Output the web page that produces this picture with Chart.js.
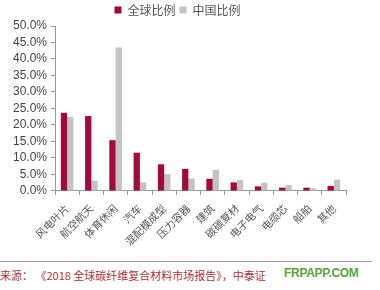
<!DOCTYPE html>
<html>
<head>
<meta charset="utf-8">
<script src="https://cdn.jsdelivr.net/npm/chart.js@4.4.0/dist/chart.umd.min.js"></script>
<style>
  html, body { margin: 0; padding: 0; background: #fff; }
  body { width: 380px; height: 290px; position: relative; overflow: hidden; }
  .chart-wrap { position: absolute; left: 0; top: 0; width: 380px; height: 255px; }
  .footer-line { position: absolute; left: 0; top: 261px; width: 372px; border-top: 1px solid #b59a9a; }
  .source { position: absolute; left: 0; top: 267px; white-space: nowrap; font: 11px "Noto Sans CJK SC", sans-serif; color: #b0343c; }
  .mark { position: absolute; left: 284px; top: 266px; font: bold 12px "Liberation Sans", sans-serif; color: #5aa33c; letter-spacing: -0.3px; }
</style>
</head>
<body>
<div class="chart-wrap"><canvas id="barChart"></canvas></div>
<div class="footer-line"></div>
<div class="source">来源：&nbsp;《2018 全球碳纤维复合材料市场报告》，中泰证</div>
<div class="mark">FRPAPP.COM</div>
<script>
const categories = ['风电叶片', '航空航天', '体育休闲', '汽车', '混配模成型', '压力容器', '建筑', '碳碳复材', '电子电气', '电缆芯', '船舶', '其他'];
const globalShare = [23.7, 22.7, 15.4, 11.6, 8.1, 6.7, 3.7, 2.6, 1.4, 1.0, 1.0, 1.5];
const chinaShare = [22.4, 3.1, 43.5, 2.6, 5.1, 3.8, 6.4, 3.4, 2.5, 1.8, 0.8, 3.4];
const yTicks = [0, 5, 10, 15, 20, 25, 30, 35, 40, 45, 50];

document.addEventListener('DOMContentLoaded', () => {
  const bar = document.getElementById('barChart');
  new Chart(bar, {
    type: 'bar',
    data: {
      labels: categories,
      datasets: [
        {
          label: '全球比例',
          data: globalShare,
          backgroundColor: '#a3093a'
        },
        {
          label: '中国比例',
          data: chinaShare,
          backgroundColor: '#c3c3c3'
        }
      ]
    },
    options: {
      responsive: true,
      maintainAspectRatio: false,
      animation: false,
      datasets: {
        bar: { categoryPercentage: 0.52, barPercentage: 1.0 }
      },
      layout: { padding: { left: 9, right: 34, top: 0, bottom: 0 } },
      plugins: {
        tooltip: { enabled: false },
        legend: {
          position: 'top',
          labels: {
            usePointStyle: true,
            pointStyle: 'rect',
            boxWidth: 7,
            boxHeight: 7,
            padding: 4,
            color: '#555',
            font: { family: '"Noto Sans CJK SC", sans-serif', size: 12 }
          }
        }
      },
      scales: {
        x: {
          grid: { drawOnChartArea: false, drawTicks: true, tickLength: 4, color: '#999' },
          border: { color: '#999' },
          ticks: {
            maxRotation: 45,
            minRotation: 45,
            autoSkip: false,
            color: '#555',
            padding: 7,
            font: { family: '"Noto Sans CJK SC", sans-serif', size: 10.5 }
          }
        },
        y: {
          min: 0,
          max: 50,
          afterBuildTicks: (axis) => { axis.ticks = yTicks.map((v) => ({ value: v })); },
          grid: { drawOnChartArea: false, drawTicks: true, tickLength: 4, color: '#999' },
          border: { color: '#999' },
          ticks: {
            autoSkip: false,
            color: '#444',
            padding: 4,
            font: { family: '"Liberation Sans", sans-serif', size: 12 },
            callback: (v) => v.toFixed(1) + '%'
          }
        }
      }
    }
  });
});
</script>
</body>
</html>
